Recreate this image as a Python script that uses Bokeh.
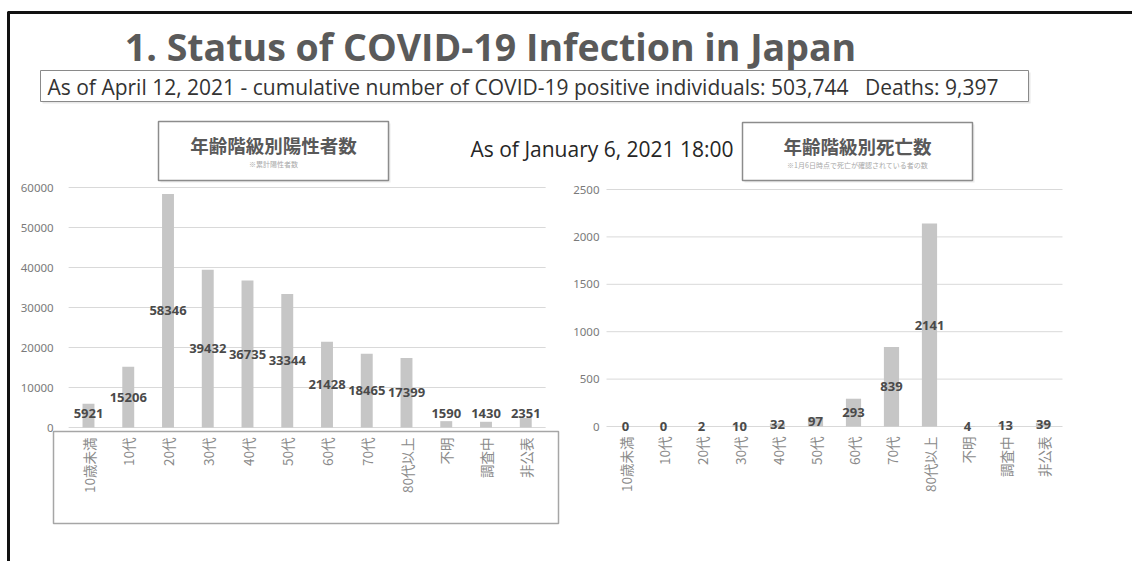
from math import pi

from bokeh.plotting import figure
from bokeh.models import Range1d
from bokeh.core.properties import value
from bokeh.embed import file_html
from bokeh.resources import INLINE

# ---- data ---------------------------------------------------------------
age_groups = ["10歳未満", "10代", "20代", "30代", "40代", "50代",
              "60代", "70代", "80代以上", "不明", "調査中", "非公表"]
positives = [5921, 15206, 58346, 39432, 36735, 33344,
             21428, 18465, 17399, 1590, 1430, 2351]
deaths = [0, 0, 2, 10, 32, 97, 293, 839, 2141, 4, 13, 39]
positive_ticks = [0, 10000, 20000, 30000, 40000, 50000, 60000]
death_ticks = [0, 500, 1000, 1500, 2000, 2500]

NBSP3 = "\u00a0\u00a0\u00a0"
title_text = "1. Status of COVID-19 Infection in Japan"
summary_text = ("As of April 12, 2021 - cumulative number of COVID-19 positive "
                "individuals: 503,744" + NBSP3 + "Deaths: 9,397")
asof_text = "As of January 6, 2021 18:00"
left_title = "年齢階級別陽性者数"
left_note = "※累計陽性者数"
right_title = "年齢階級別死亡数"
right_note = "※1月6日時点で死亡が確認されている者の数"

# ---- canvas ---------------------------------------------------------------
W, H = 1132, 561
LATIN = value("Open Sans")
NUM = value("Noto Sans")
CJK = value("Noto Sans CJK JP")

p = figure(width=W, height=H, x_range=Range1d(0, W), y_range=Range1d(H, 0),
           min_border=0, toolbar_location=None, output_backend="svg",
           x_axis_type=None, y_axis_type=None, outline_line_color=None,
           background_fill_color="white", border_fill_color="white")
p.grid.visible = False

idx = list(range(len(age_groups)))


def add_chart_ranges(name, x0_px, step_px, y0_px, px_per_unit):
    """Category index -> pixel column, value -> pixel row, on the full canvas."""
    p.extra_x_ranges[name + "_x"] = Range1d(start=-x0_px / step_px,
                                            end=(W - x0_px) / step_px)
    p.extra_y_ranges[name + "_y"] = Range1d(start=(y0_px - H) / px_per_unit,
                                            end=y0_px / px_per_unit)
    return dict(x_range_name=name + "_x", y_range_name=name + "_y")


def draw_bar_chart(rng, values, ticks, bar_width, label_y, tick_gap):
    n = len(values)
    # horizontal gridlines
    p.segment(x0=[-0.5] * len(ticks), x1=[n - 0.5] * len(ticks),
              y0=ticks, y1=ticks, line_color="#d9d9d9", line_width=1, **rng)
    # value axis labels
    p.text(x=[-0.5] * len(ticks), y=ticks, text=[str(t) for t in ticks],
           x_offset=-tick_gap, text_align="right", text_baseline="middle",
           text_font=NUM, text_font_size="11.5px", text_color="#7a7a7a", **rng)
    # bars
    p.vbar(x=idx, top=values, bottom=0, width=bar_width,
           fill_color="#c6c6c6", line_color=None, **rng)
    # data labels
    p.text(x=idx, y=label_y, text=[str(v) for v in values],
           text_align="center", text_baseline="middle",
           text_font=NUM, text_font_size="13px", text_font_style="bold",
           text_color="#4a4a4a", **rng)
    # category labels, rotated
    p.text(x=idx, y=[0] * n, text=age_groups, angle=pi / 2,
           y_offset=10, text_align="right", text_baseline="middle",
           text_font=CJK, text_font_size="13.5px", text_color="#8a8a8a", **rng)


# ---- slide frame ------------------------------------------------------------
p.segment(x0=[7.5, 8], y0=[12, 11], x1=[W, 8], y1=[12, H],
          line_color="#111111", line_width=3)

# heading
p.text(x=[490], y=[46], text=[title_text], text_align="center",
       text_baseline="middle", text_font=LATIN, text_font_size="37.5px",
       text_font_style="bold", text_color="#5a5a5a")

# summary box
p.quad(left=[42], right=[1030], top=[72], bottom=[103],
       fill_color="#e8e8e8", line_color=None)
p.quad(left=[40], right=[1028], top=[70], bottom=[101],
       fill_color="white", line_color="#8a8a8a", line_width=1)
p.text(x=[47], y=[86], text=[summary_text], text_align="left",
       text_baseline="middle", text_font=LATIN, text_font_size="21px",
       text_color="#333333")

# date stamp between the charts
p.text(x=[470], y=[148], text=[asof_text], text_align="left",
       text_baseline="middle", text_font=LATIN, text_font_size="21px",
       text_color="#262626")

# chart title boxes
for (l, r, t, b, head, note, note_size) in [
        (158, 388, 121, 180, left_title, left_note, "7px"),
        (742, 972, 122, 180, right_title, right_note, "7px")]:
    p.quad(left=[l + 2], right=[r + 2], top=[t + 2], bottom=[b + 2],
           fill_color="#ececec", line_color=None)
    p.quad(left=[l], right=[r], top=[t], bottom=[b],
           fill_color="white", line_color="#8c8c8c", line_width=1.5)
    cx = (l + r) / 2
    p.text(x=[cx], y=[t + 23], text=[head], text_align="center",
           text_baseline="middle", text_font=CJK, text_font_size="18.5px",
           text_font_style="bold", text_color="#595959")
    p.text(x=[cx], y=[t + 42], text=[note], text_align="center",
           text_baseline="middle", text_font=CJK, text_font_size=note_size,
           text_color="#a8a8a8")

# frame around the left chart's category labels
p.quad(left=[53], right=[558], top=[431], bottom=[523],
       fill_color=None, line_color="#a6a6a6", line_width=1.5)

# ---- charts ---------------------------------------------------------------
left_rng = add_chart_ranges("pos", 88, 39.75, 427, 0.004)
draw_bar_chart(left_rng, positives, positive_ticks, 0.3,
               [max(v / 2, 3500) for v in positives], 15)

right_rng = add_chart_ranges("dth", 625, 38, 426, 47.4 / 500)
draw_bar_chart(right_rng, deaths, death_ticks, 0.4,
               [v / 2 for v in deaths], 7)

open("out.html", "w").write(file_html(p, INLINE))
